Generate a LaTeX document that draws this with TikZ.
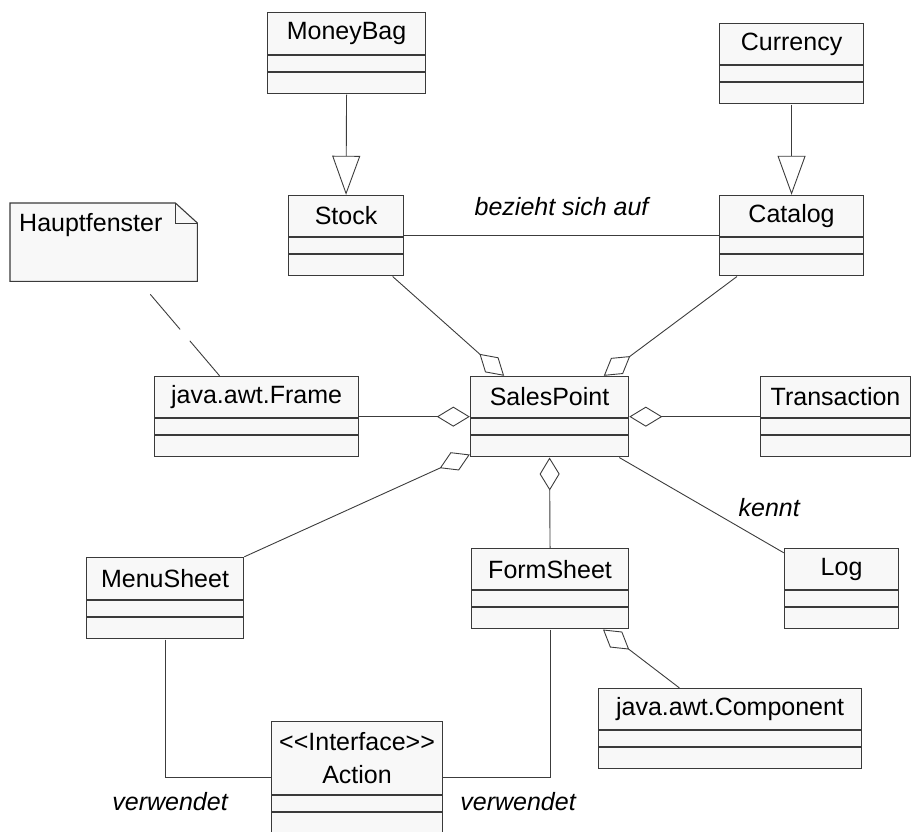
\documentclass[tikz,border=0pt]{standalone}
\usepackage{fontspec}
\setmainfont{Liberation Sans}
\usepackage{xcolor}
\usepackage{tikz}
\usetikzlibrary{positioning,fit,calc,arrows.meta}

\definecolor{umlfill}{HTML}{F8F8F8}
\definecolor{umldraw}{HTML}{3A3A3A}
\definecolor{umllink}{HTML}{3C3C3C}

\tikzset{
	classhead/.style={draw=umldraw, fill=umlfill, line width=1.1pt, anchor=north west, inner sep=0pt, align=center},
	classpart/.style={draw=umldraw, fill=umlfill, line width=1.1pt, inner sep=0pt},
	notebox/.style={fill=umlfill, anchor=north west, inner xsep=9pt, inner ysep=0pt, text width=169pt, text height=28pt, text depth=50pt},
	link/.style={draw=umllink, line width=0.9pt},
	gen/.style={link, -{Triangle[open, length=39pt, width=28pt]}},
	aggr/.style={link, -{Diamond[open, length=33pt, width=20pt]}},
	notelink/.style={link, dash pattern=on 46pt off 15pt, shorten <=17pt},
	edgelabel/.style={inner sep=0pt, execute at begin node=\itshape}
}

% [header height]{name}{top left}{width}{text}
\newcommand{\umlclass}[5][41pt]{%
	\node[classhead, minimum width=#4, minimum height=#1] (#2-head) at #3 {#5};
	\node[classpart, minimum width=#4, minimum height=16pt, below=0pt of #2-head] (#2-attr) {};
	\node[classpart, minimum width=#4, minimum height=21pt, below=0pt of #2-attr] (#2-ops) {};
	\node[fit=(#2-head)(#2-ops), inner sep=0pt] (#2) {};
}

\begin{document}
\begin{tikzpicture}[x=1pt, y=-1pt, font=\fontsize{25pt}{30pt}\selectfont]
	\useasboundingbox (0,0) rectangle (912,831);

	% classes
	\umlclass[42pt]{moneybag}{(267,12)}{158pt}{MoneyBag}
	\umlclass{currency}{(719,23)}{144pt}{Currency}
	\umlclass{stock}{(288,195)}{115pt}{Stock}
	\umlclass{catalog}{(719,195)}{144pt}{Catalog}
	\umlclass{frame}{(154,376)}{204pt}{java.awt.Frame}
	\umlclass{salespoint}{(470,376)}{158pt}{SalesPoint}
	\umlclass{transaction}{(760,376)}{150pt}{Transaction}
	\umlclass[42pt]{menusheet}{(86,557)}{157pt}{MenuSheet}
	\umlclass{formsheet}{(471,548)}{157pt}{FormSheet}
	\umlclass{log}{(784,548)}{114pt}{Log}
	\umlclass{component}{(598,688)}{263pt}{java.awt.Component}
	\umlclass[73pt]{action}{(271,721)}{171pt}{\textless\kern0pt\textless\kern0pt Interface\kern0pt\textgreater\kern0pt\textgreater\\[3pt]Action}

	% note
	\node[notebox] (note) at (10,203) {Hauptfenster};
	\fill[white] ([xshift=-22pt]note.north east) -- (note.north east) -- ([yshift=-20pt]note.north east) -- cycle;
	\draw[umldraw, line width=1.1pt] (note.north west) -- ([xshift=-22pt]note.north east)
		-- ([yshift=-20pt]note.north east) -- (note.south east) -- (note.south west) -- cycle;
	\draw[umldraw, line width=0.8pt] ([xshift=-22pt]note.north east) |- ([yshift=-20pt]note.north east);

	% connectors
	\draw[gen] (moneybag.south) -- (stock.north);
	\draw[gen] (currency.south) -- (catalog.north);
	\draw[link] (stock.east) -- node[edgelabel, above=19pt] {bezieht sich auf} (catalog.west);
	\draw[aggr] ($(stock.south west)!0.9!(stock.south east)$) -- ($(salespoint.north west)!0.215!(salespoint.north east)$);
	\draw[aggr] ($(catalog.south west)!0.125!(catalog.south east)$) -- ($(salespoint.north west)!0.84!(salespoint.north east)$);
	\draw[aggr] (frame.east) -- (salespoint.west);
	\draw[aggr] (transaction.west) -- (salespoint.east);
	\draw[aggr] (menusheet.north east) -- ([yshift=3pt]salespoint.south west);
	\draw[aggr] (formsheet.north) -- (salespoint.south);
	\draw[link] ($(salespoint.south west)!0.937!(salespoint.south east)$) -- node[edgelabel, pos=0.723, anchor=base west, yshift=10pt] {kennt} ([yshift=-5pt]log.north west);
	\draw[aggr] ($(component.north west)!0.308!(component.north east)$) -- ($(formsheet.south west)!0.834!(formsheet.south east)$);
	\draw[link] (menusheet.south) |- node[edgelabel, pos=0.5, below=14pt, xshift=5pt] {verwendet} (action.west);
	\draw[link] (formsheet.south) |- node[edgelabel, pos=0.5, below=14pt, xshift=-32pt] {verwendet} (action.east);
	\draw[notelink] ($(note.south west)!0.69!(note.south east)$) -- ($(frame.north west)!0.32!(frame.north east)$);
\end{tikzpicture}
\end{document}
